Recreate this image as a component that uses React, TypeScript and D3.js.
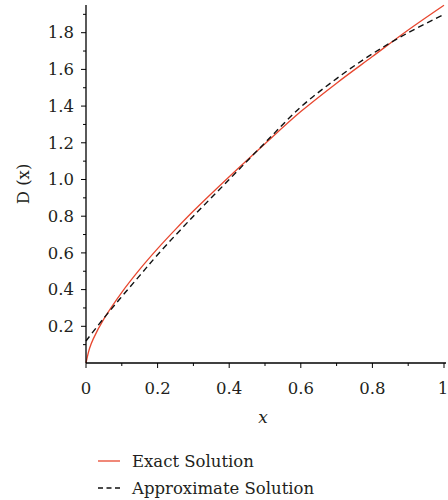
import React from 'react';
import * as d3 from 'd3';

// values
const exactX = [0, 0.01, 0.02, 0.05, 0.1, 0.15, 0.2, 0.25, 0.3, 0.4, 0.5, 0.6, 0.7, 0.8, 0.9, 1.0];
const exactY = [0, 0.08, 0.13, 0.24, 0.385, 0.51, 0.623, 0.728, 0.828, 1.015, 1.195, 1.37, 1.525, 1.67, 1.815, 1.95];
const approxX = [0, 0.05, 0.1, 0.15, 0.2, 0.3, 0.4, 0.5, 0.6, 0.7, 0.8, 0.9, 1.0];
const approxY = [0.12, 0.245, 0.362, 0.476, 0.59, 0.8, 1.0, 1.2, 1.395, 1.55, 1.685, 1.8, 1.9];
const xTicks = [0, 0.2, 0.4, 0.6, 0.8, 1];
const yTicks = [0.2, 0.4, 0.6, 0.8, 1.0, 1.2, 1.4, 1.6, 1.8];
const legendLabels = ['Exact Solution', 'Approximate Solution'];

const font = "'DejaVu Serif', serif";

export default function App() {
  const width = 448, height = 500;
  const x = d3.scaleLinear().domain([0, 1]).range([86, 444]);
  const y = d3.scaleLinear().domain([0, 1.94]).range([363, 7]);

  const line = d3.line<[number, number]>()
    .x(d => x(d[0]))
    .y(d => y(d[1]))
    .curve(d3.curveCatmullRom.alpha(0.5));

  const exact = exactX.map((v, i) => [v, exactY[i]] as [number, number]);
  const approx = approxX.map((v, i) => [v, approxY[i]] as [number, number]);

  const xMinor = d3.range(1, 10, 2).map(d => d / 10);
  const yMinor = d3.range(1, 20, 2).map(d => d / 10);

  return (
    <svg width={width} height={height} style={{ position: 'absolute', left: 0, top: 0 }}>
      <path d={line(exact) || ''} fill="none" stroke="#e8472f" strokeWidth={1.3} />
      <path d={line(approx) || ''} fill="none" stroke="#111" strokeWidth={1.4} strokeDasharray="6,4" />

      {/* axes */}
      <line x1={x(0)} x2={x(0)} y1={5} y2={y(0)} stroke="#000" strokeWidth={1.3} />
      <line x1={x(0)} x2={446} y1={y(0)} y2={y(0)} stroke="#000" strokeWidth={1.3} />

      <g style={{ fontFamily: font }} fill="#231f20">
        {yTicks.map(t => (
          <g key={'y' + t}>
            <line x1={x(0) - 5} x2={x(0)} y1={y(t)} y2={y(t)} stroke="#000" />
            <text x={x(0) - 12} y={y(t)} dy="0.35em" textAnchor="end" fontSize={16.5}>{t.toFixed(1)}</text>
          </g>
        ))}
        {yMinor.map(t => (
          <line key={'ym' + t} x1={x(0) - 3} x2={x(0)} y1={y(t)} y2={y(t)} stroke="#000" />
        ))}

        {xTicks.map(t => (
          <g key={'x' + t}>
            <line x1={x(t)} x2={x(t)} y1={y(0)} y2={y(0) + 5} stroke="#000" />
            <text x={t === 1 ? x(t) - 1 : x(t)} y={y(0) + 31} textAnchor="middle" fontSize={16.5}>{String(t)}</text>
          </g>
        ))}
        {xMinor.map(t => (
          <line key={'xm' + t} x1={x(t)} x2={x(t)} y1={y(0)} y2={y(0) + 3} stroke="#000" />
        ))}

        <text x={263} y={423} textAnchor="middle" fontSize={17} fontStyle="italic">x</text>
        <text transform="translate(29,184) rotate(-90)" textAnchor="middle" fontSize={16.5}>D (x)</text>

        {/* legend */}
        <line x1={98} x2={120} y1={461} y2={461} stroke="#e8472f" strokeWidth={1.3} />
        <text x={132} y={467} fontSize={16.5}>{legendLabels[0]}</text>
        <line x1={98} x2={120} y1={488} y2={488} stroke="#111" strokeWidth={1.4} strokeDasharray="5,3.5" />
        <text x={132} y={494} fontSize={16.5}>{legendLabels[1]}</text>
      </g>
    </svg>
  );
}
